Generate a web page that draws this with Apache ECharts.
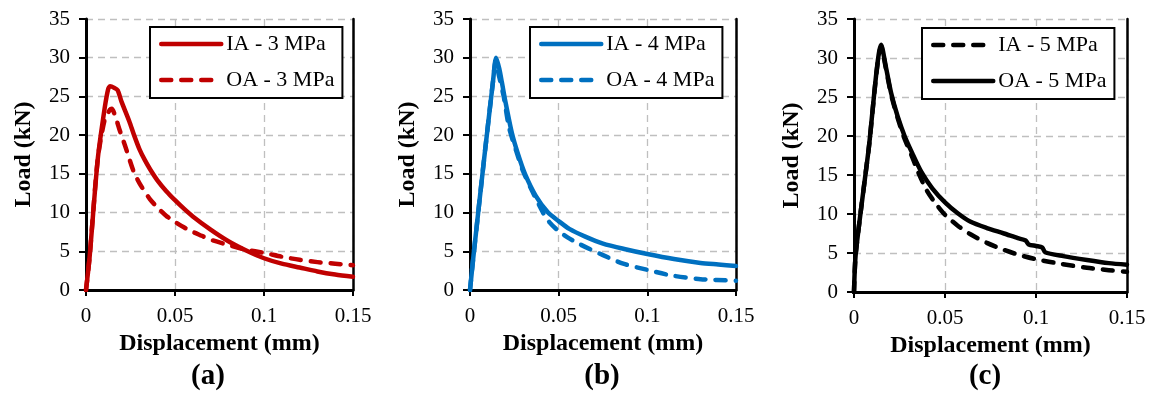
<!DOCTYPE html>
<html>
<head>
<meta charset="utf-8">
<script src="https://cdn.jsdelivr.net/npm/echarts@6/dist/echarts.min.js"></script>
<style>html,body{margin:0;padding:0;background:#fff;}#c{width:1151px;height:395px;}</style>
</head>
<body>
<div id="c"></div>
<script>
// ---- Data (displacement in mm, load in kN) ----
const xTicks = ['0', '0.05', '0.1', '0.15'];
const yTicks = [0, 5, 10, 15, 20, 25, 30, 35];

const aIA_x = [0, 0.002, 0.0066, 0.0105, 0.0125, 0.0135, 0.016, 0.0178, 0.02, 0.0243, 0.027, 0.03, 0.033, 0.036, 0.04, 0.045, 0.05, 0.055, 0.06, 0.07, 0.08, 0.09, 0.1, 0.11, 0.12, 0.13, 0.14, 0.15];
const aIA_y = [0, 4.2, 16.9, 23.5, 26.0, 26.3, 26.1, 25.8, 24.3, 21.8, 20.0, 18.2, 16.8, 15.6, 14.2, 12.8, 11.6, 10.5, 9.5, 7.8, 6.3, 5.1, 4.1, 3.4, 2.9, 2.4, 2.0, 1.7];

const aOA_x = [0, 0.002, 0.0066, 0.0105, 0.0135, 0.0145, 0.0165, 0.0187, 0.022, 0.0266, 0.03, 0.036, 0.04, 0.045, 0.05, 0.055, 0.06, 0.065, 0.07, 0.08, 0.09, 0.1, 0.11, 0.12, 0.13, 0.14, 0.15];
const aOA_y = [0, 4.2, 16.9, 22.0, 23.3, 23.4, 22.4, 20.8, 18.6, 15.4, 13.8, 11.7, 10.7, 9.6, 8.8, 8.1, 7.5, 7.0, 6.5, 5.8, 5.2, 4.8, 4.3, 3.9, 3.6, 3.4, 3.2];

const bIA_x = [0, 0.002, 0.008, 0.013, 0.0147, 0.0165, 0.018, 0.02, 0.0237, 0.027, 0.031, 0.037, 0.044, 0.05, 0.056, 0.065, 0.075, 0.087, 0.1, 0.115, 0.13, 0.14, 0.15];
const bIA_y = [0, 4.5, 17.0, 27.0, 30.0, 28.6, 26.8, 24.3, 20.2, 17.6, 15.0, 12.2, 10.0, 8.9, 7.9, 6.9, 6.0, 5.3, 4.65, 4.0, 3.5, 3.3, 3.1];

const bOA_x = [0, 0.002, 0.008, 0.013, 0.0145, 0.0165, 0.019, 0.022, 0.026, 0.03, 0.035, 0.0414, 0.045, 0.049, 0.055, 0.062, 0.075, 0.0864, 0.1, 0.113, 0.13, 0.15];
const bOA_y = [0, 4.5, 17.0, 27.0, 29.5, 27.5, 25.0, 21.0, 18.0, 15.3, 12.8, 9.9, 8.7, 7.8, 6.8, 5.9, 4.5, 3.4, 2.6, 1.9, 1.4, 1.2];

const cIA_x = [0, 0.001, 0.008, 0.015, 0.0175, 0.0204, 0.024, 0.0275, 0.032, 0.035, 0.04, 0.045, 0.05, 0.057, 0.064, 0.073, 0.0824, 0.09, 0.1, 0.114, 0.128, 0.14, 0.15];
const cIA_y = [0, 5.0, 18.2, 31.5, 28.7, 25.3, 22.3, 19.8, 17.3, 15.5, 13.0, 11.3, 9.9, 8.5, 7.4, 6.3, 5.4, 4.8, 4.2, 3.6, 3.1, 2.8, 2.6];

const cOA_x = [0, 0.001, 0.008, 0.015, 0.0175, 0.0204, 0.024, 0.0278, 0.032, 0.037, 0.043, 0.05, 0.057, 0.0641, 0.073, 0.0824, 0.09, 0.0943, 0.096, 0.1, 0.1035, 0.105, 0.115, 0.128, 0.14, 0.15];
const cOA_y = [0, 5.0, 18.2, 31.7, 28.9, 25.5, 22.5, 20.0, 17.8, 15.4, 13.3, 11.5, 10.1, 9.0, 8.2, 7.5, 6.9, 6.6, 6.1, 5.9, 5.7, 5.1, 4.6, 4.1, 3.7, 3.5];

const names = ['IA - 3 MPa', 'OA - 3 MPa', 'IA - 4 MPa', 'OA - 4 MPa', 'IA - 5 MPa', 'OA - 5 MPa'];
const panelLabels = ['(a)', '(b)', '(c)'];

// ---- Build ----
const zip = (xs, ys) => xs.map((x, i) => [x, ys[i]]);
const FONT = "'Liberation Serif', 'Times New Roman', serif";
const RED = '#C00000', BLUE = '#0070C0', BLACK = '#000000';
const LW = 4.5;

const grids = [
  { left: 86, top: 19, width: 267, height: 271 },
  { left: 470, top: 19, width: 266, height: 271 },
  { left: 854, top: 19, width: 273, height: 273 }
];
const legendPos = [
  { left: 150, top: 27 },
  { left: 530, top: 27 },
  { left: 922, top: 28 }
];
const labelPos = [[208, 377], [602, 377], [985, 377]];

const xAxes = [], yAxes = [], legends = [];
grids.forEach((g, i) => {
  xAxes.push({
    type: 'value', gridIndex: i, min: 0, max: 0.15, interval: 0.05,
    name: 'Displacement (mm)', nameLocation: 'middle', nameGap: 38,
    nameTextStyle: { fontFamily: FONT, fontWeight: 'bold', fontSize: 24, color: '#000' },
    axisLine: { onZero: false, lineStyle: { color: '#000', width: 3 } },
    axisTick: { show: true, inside: false, length: 6, lineStyle: { color: '#000', width: 2 } },
    axisLabel: { fontFamily: FONT, fontSize: 21, color: '#000', margin: 16,
      formatter: v => xTicks[Math.round(v / 0.05)] },
    splitLine: { show: true, lineStyle: { color: '#BFBFBF', width: 1.3, type: [7, 5] } }
  });
  yAxes.push({
    type: 'value', gridIndex: i, min: 0, max: 35, interval: 5,
    name: 'Load (kN)', nameLocation: 'middle', nameGap: 50, nameRotate: 90,
    nameTextStyle: { fontFamily: FONT, fontWeight: 'bold', fontSize: 24, color: '#000' },
    axisLine: { show: true, onZero: false, lineStyle: { color: '#000', width: 3 } },
    axisTick: { show: true, inside: false, length: 7, lineStyle: { color: '#000', width: 2 } },
    axisLabel: { fontFamily: FONT, fontSize: 21, color: '#000', margin: 16,
      formatter: v => String(yTicks[Math.round(v / 5)]) },
    splitLine: { show: true, lineStyle: { color: '#BFBFBF', width: 1.3, type: [7, 5] } }
  });
  // right border of the plot area
  yAxes.push({
    type: 'value', gridIndex: i, position: 'right', min: 0, max: 35, interval: 35,
    axisLine: { show: true, onZero: false, lineStyle: { color: '#000', width: 2.5 } },
    axisTick: { show: false }, axisLabel: { show: false }, splitLine: { show: false }
  });
  legends.push({
    data: [names[2 * i], names[2 * i + 1]],
    orient: 'vertical', left: legendPos[i].left, top: legendPos[i].top,
    itemWidth: 60, itemHeight: 14, itemGap: 14,
    padding: [6, 8, 7, 9],
    borderColor: '#000', borderWidth: 2, backgroundColor: '#fff',
    itemStyle: { opacity: 0 },
    lineStyle: { width: LW },
    textStyle: { fontFamily: FONT, fontSize: 22, color: '#000' },
    selectedMode: false
  });
});

function mk(name, xs, ys, gi, color, dashed) {
  return {
    name, type: 'line', xAxisIndex: gi, yAxisIndex: gi * 2,
    data: zip(xs, ys), showSymbol: false, symbol: 'none', smooth: 0.25,
    lineStyle: { color, width: LW, type: dashed ? [10, 10] : 'solid', cap: 'round', join: 'round' },
    itemStyle: { color }, z: dashed ? 3 : 4
  };
}

const series = [
  mk(names[0], aIA_x, aIA_y, 0, RED, false),
  mk(names[1], aOA_x, aOA_y, 0, RED, true),
  mk(names[2], bIA_x, bIA_y, 1, BLUE, false),
  mk(names[3], bOA_x, bOA_y, 1, BLUE, true),
  mk(names[4], cIA_x, cIA_y, 2, BLACK, true),
  mk(names[5], cOA_x, cOA_y, 2, BLACK, false)
];

const graphic = panelLabels.map((t, i) => ({
  type: 'text', x: labelPos[i][0], y: labelPos[i][1],
  style: { text: t, fontFamily: FONT, fontWeight: 'bold', fontSize: 29, fill: '#000',
    textAlign: 'center', textVerticalAlign: 'middle' }
}));

const chart = echarts.init(document.getElementById('c'), null, { renderer: 'canvas' });
chart.setOption({
  animation: false,
  backgroundColor: '#fff',
  grid: grids,
  xAxis: xAxes,
  yAxis: yAxes,
  legend: legends,
  series,
  graphic
});
</script>
</body>
</html>
